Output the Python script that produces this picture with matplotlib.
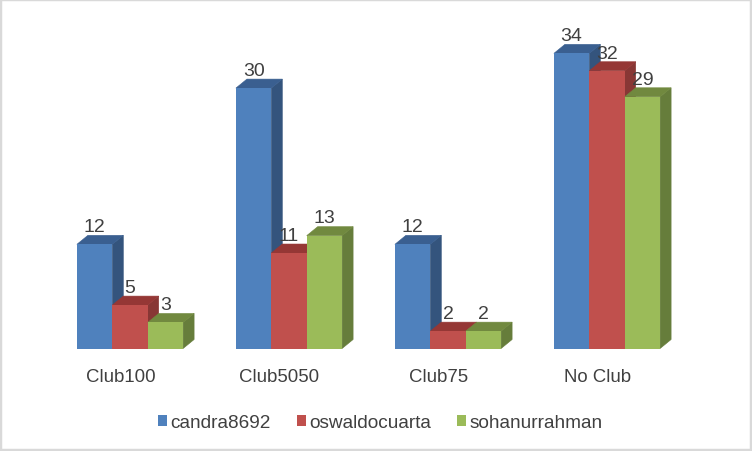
import matplotlib
matplotlib.use("Agg")
import matplotlib.pyplot as plt
from matplotlib.patches import Polygon, Rectangle

plt.rcParams['font.family'] = ['Liberation Sans', 'DejaVu Sans']

categories = ["Club100", "Club5050", "Club75", "No Club"]
candra8692 = [12, 30, 12, 34]
oswaldocuarta = [5, 11, 2, 32]
sohanurrahman = [3, 13, 2, 29]
series_names = ["candra8692", "oswaldocuarta", "sohanurrahman"]
front_colors = ["#4F81BD", "#C0504D", "#9BBB59"]
side_colors = ["#34547D", "#883735", "#667D3B"]
top_colors = ["#3A5F90", "#953735", "#71893F"]
text_color = "#404040"

W, H = 752, 452
PX_X = 159.0          # pixels per category
PX_Y = 8.68           # pixels per unit
BASE = 349.5          # baseline pixel row
C0 = 130              # centre of first group
BW = 35.4 / PX_X
DX = 11 / PX_X
DY = 9 / PX_Y

fig = plt.figure(figsize=(W / 100, H / 100), dpi=100, facecolor="white")
ax = fig.add_axes([0, (H - BASE) / H, 1, BASE / H])
ax.set_xlim(-C0 / PX_X, (W - C0) / PX_X)
ax.set_ylim(0, BASE / PX_Y)
ax.patch.set_alpha(0)
for s in ax.spines.values():
    s.set_visible(False)

all_values = [candra8692, oswaldocuarta, sohanurrahman]
for i, values in enumerate(all_values):
    xs = [k + (i - 1) * BW for k in range(len(categories))]
    z = 2 + i
    bars = ax.bar(xs, values, BW, color=front_colors[i], label=series_names[i],
                  linewidth=0, zorder=z + 0.2)
    for x, v in zip(xs, values):
        l, r = x - BW / 2, x + BW / 2
        ax.add_patch(Polygon([(r, 0), (r + DX, DY), (r + DX, v + DY), (r, v)],
                             closed=True, fc=side_colors[i], ec=side_colors[i],
                             lw=0.4, zorder=z))
        ax.add_patch(Polygon([(l, v), (l + DX, v + DY), (r + DX, v + DY), (r, v)],
                             closed=True, fc=top_colors[i], ec=top_colors[i],
                             lw=0.4, zorder=z + 0.1))
    ax.bar_label(bars, padding=6.6, fontsize=14, color=text_color, zorder=10)

ax.set_xticks([k - 9.5 / PX_X for k in range(len(categories))])
ax.set_xticklabels(categories, fontsize=13.4, color=text_color)
ax.tick_params(axis="x", length=0, pad=14)
ax.set_yticks([])

fig.legend(*ax.get_legend_handles_labels(), loc="center", ncol=3,
           bbox_to_anchor=(380 / W, 1 - 423.5 / H), frameon=False, fontsize=13.7,
           labelcolor=text_color, handlelength=0.5, handleheight=0.5,
           handletextpad=0.15, columnspacing=1.37, borderpad=0, borderaxespad=0)

fig.add_artist(Rectangle((0, 0), 1, 1, transform=fig.transFigure, fill=False,
                         ec="#D9D9D9", lw=3.2))
fig.savefig("out.png", dpi=100, facecolor="white")
